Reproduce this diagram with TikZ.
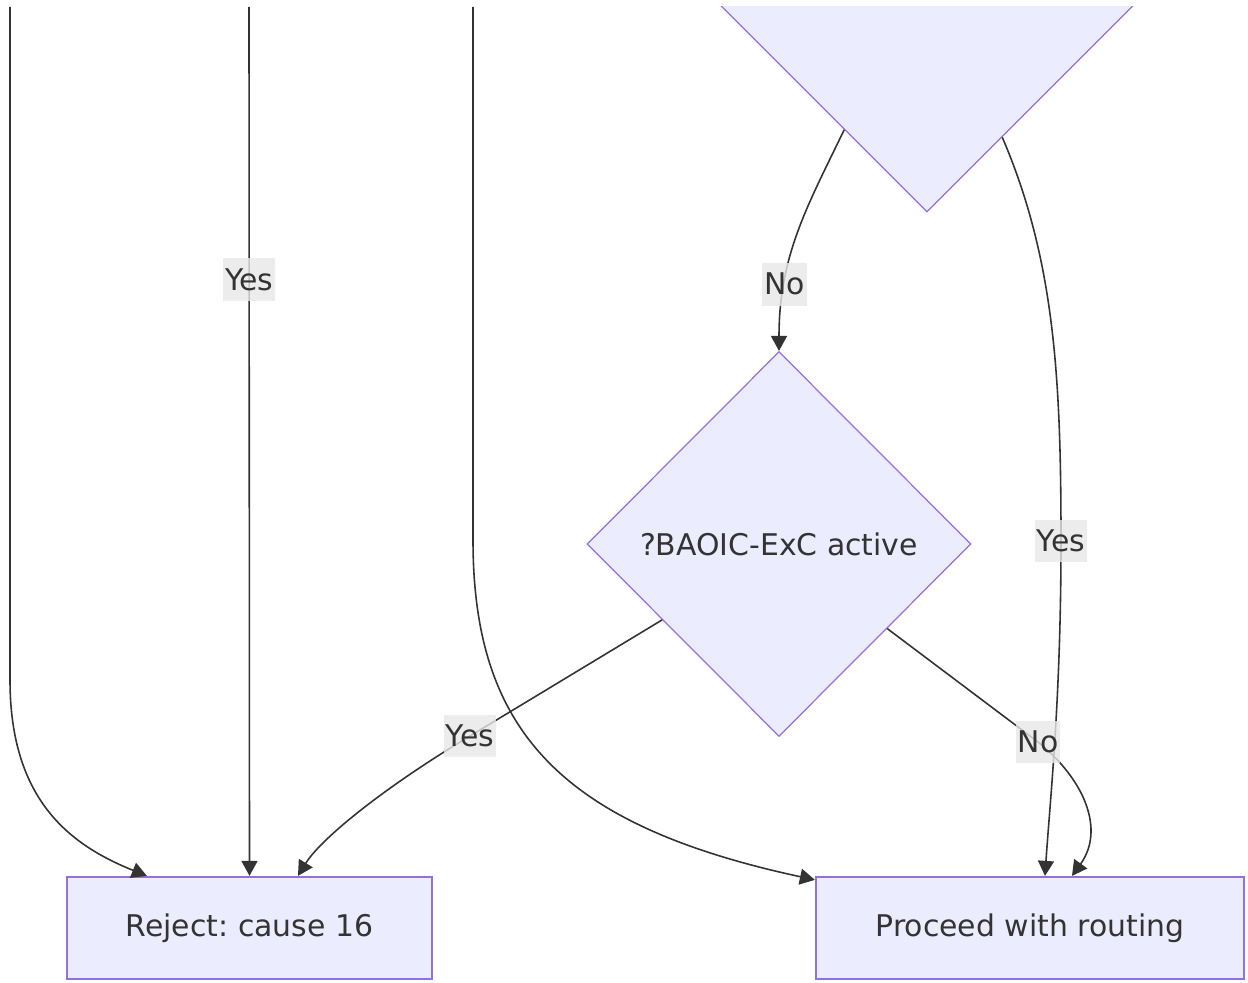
\documentclass[tikz,border=0pt]{standalone}
\usepackage{fontspec}
\setmainfont{DejaVu Sans}
\usetikzlibrary{shapes.geometric,arrows.meta}
\definecolor{nodefill}{HTML}{ECECFF}
\definecolor{nodeline}{HTML}{9370DB}
\definecolor{edgeline}{HTML}{333333}
\definecolor{lblfill}{HTML}{E8E8E8}
\frenchspacing
\begin{document}
\begin{tikzpicture}[
  x=0.02cm, y=-0.02cm,
  font=\fontsize{17}{20}\selectfont,
  box/.style={draw=nodeline, fill=nodefill, line width=1.3pt, text=edgeline, minimum height=2.04cm},
  decision/.style={diamond, draw=nodeline, fill=nodefill, line width=0.7pt, text=edgeline, inner sep=0pt, minimum width=7.68cm, minimum height=7.7cm},
  lbl/.style={fill=lblfill, fill opacity=0.8, text opacity=1, text=edgeline, inner xsep=1pt, inner ysep=0pt, minimum height=0.86cm},
  arrow/.style={-{Triangle[length=0.3cm, width=0.32cm]}, draw=edgeline, line width=0.9pt}
]
\useasboundingbox[fill=white] (0,0) rectangle (1248,983);
\begin{scope}
\clip (0,7) rectangle (1248,983);
\node[decision, minimum width=10.08cm, minimum height=10.08cm] (top) at (927,-40) {};
\end{scope}
\node[box, minimum width=7.3cm] (reject) at (249.5,928) {Reject: cause 16};
\node[box, minimum width=8.56cm] (proceed) at (1030,928) {Proceed with routing};
\node[decision] (cond) at (779,544) {?BAOIC-ExC active};
\coordinate (in1) at (10,7);
\coordinate (in2) at (249,7);
\coordinate (in3) at (473,7);
\draw[arrow] (in1) -- (10,680) .. controls (10,800) and (70,845) .. ([xshift=1.62cm]reject.north west);
\draw[arrow] (in2) -- (reject.north) node[lbl, pos=0.314] {Yes};
\draw[arrow] (in3) -- (473,540) .. controls (473,730) and (560,825) .. ([yshift=-0.08cm]proceed.north west);
\draw[arrow] (top.-116) .. controls (808,205) and (779,255) .. (cond.north) node[lbl, pos=0.74] {No};
\draw[arrow] (top.-67) .. controls (1055,260) and (1061,380) .. (1061,541) node[lbl] {Yes} .. controls (1061,700) and (1050,800) .. ([xshift=0.3cm]proceed.north);
\draw[arrow] (cond.213) -- (470,736) node[lbl] {Yes} .. controls (380,790) and (320,840) .. ([xshift=0.97cm]reject.north);
\draw[arrow] (cond.-38) -- (1038,742) node[lbl] {No} .. controls (1085,780) and (1105,830) .. ([xshift=0.84cm]proceed.north);
\end{tikzpicture}
\end{document}
